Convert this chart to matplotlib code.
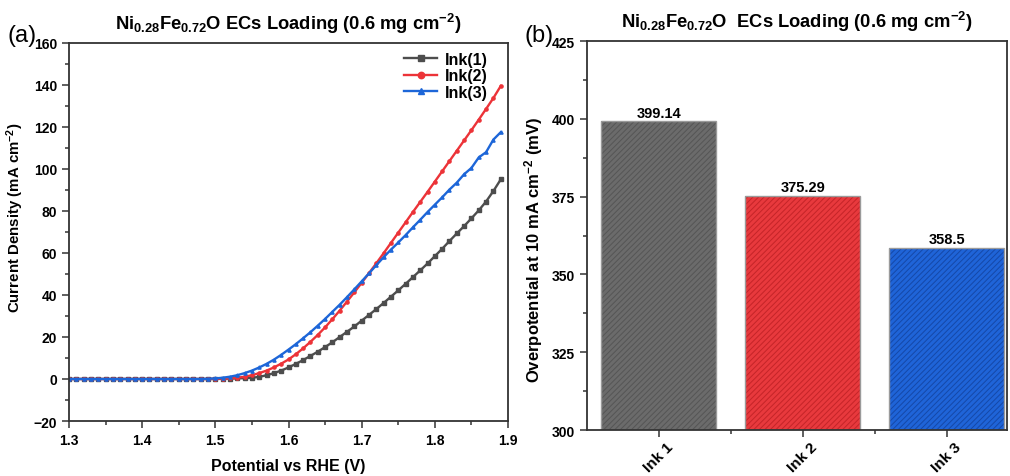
import numpy as np
import matplotlib
matplotlib.use("Agg")
import matplotlib.pyplot as plt
from matplotlib.ticker import MultipleLocator

plt.rcParams['font.family'] = ['Liberation Sans', 'DejaVu Sans']
plt.rcParams['mathtext.fontset'] = 'custom'
plt.rcParams['mathtext.rm'] = 'Liberation Sans:bold'
plt.rcParams['mathtext.bf'] = 'Liberation Sans:bold'
plt.rcParams['mathtext.default'] = 'bf'
plt.rcParams['hatch.linewidth'] = 0.7

# ---------------- data ----------------
potential = [1.30, 1.31, 1.32, 1.33, 1.34, 1.35, 1.36, 1.37, 1.38, 1.39,
             1.40, 1.41, 1.42, 1.43, 1.44, 1.45, 1.46, 1.47, 1.48, 1.49,
             1.50, 1.51, 1.52, 1.53, 1.54, 1.55, 1.56, 1.57, 1.58, 1.59,
             1.60, 1.61, 1.62, 1.63, 1.64, 1.65, 1.66, 1.67, 1.68, 1.69,
             1.70, 1.71, 1.72, 1.73, 1.74, 1.75, 1.76, 1.77, 1.78, 1.79,
             1.80, 1.81, 1.82, 1.83, 1.84, 1.85, 1.86, 1.87, 1.88, 1.89]

ink1 = [0, 0, 0, 0, 0, 0, 0, 0, 0, 0,
        0, 0, 0, 0, 0, 0, 0, 0, 0, 0,
        0, 0.1, 0.2, 0.3, 0.4, 0.6, 1.0, 1.8, 2.8, 4.0,
        5.5, 7.2, 9.0, 11.0, 13.0, 15.2, 17.5, 20.0, 22.5, 25.0,
        27.8, 30.5, 33.3, 36.2, 39.2, 42.2, 45.3, 48.5, 51.7, 55.0,
        58.5, 62.0, 65.7, 69.3, 72.8, 76.5, 80.3, 84.5, 89.5, 95.0]

ink2 = [0, 0, 0, 0, 0, 0, 0, 0, 0, 0,
        0, 0, 0, 0, 0, 0, 0, 0, 0, 0,
        0.1, 0.2, 0.3, 0.6, 1.1, 1.8, 2.8, 4.0, 5.5, 7.3,
        9.3, 11.8, 14.6, 17.7, 21.0, 24.6, 28.5, 32.6, 36.9, 41.3,
        45.8, 50.4, 55.1, 59.9, 64.8, 69.7, 74.6, 79.5, 84.3, 89.1,
        94.0, 98.9, 103.8, 108.7, 113.6, 118.5, 123.5, 128.6, 133.8, 139.5]

ink3 = [0, 0, 0, 0, 0, 0, 0, 0, 0, 0,
        0, 0, 0, 0, 0, 0, 0, 0, 0, 0.1,
        0.3, 0.6, 1.1, 1.8, 2.8, 4.0, 5.5, 7.2, 9.2, 11.5,
        14.0, 16.6, 19.4, 22.3, 25.4, 28.6, 32.0, 35.4, 39.0, 42.7,
        46.5, 50.3, 54.2, 58.0, 61.6, 65.0, 68.5, 72.2, 75.8, 79.5,
        83.0, 86.5, 90.2, 93.5, 97.5, 100.5, 105.5, 108.0, 114.0, 117.5]

lsv_labels = ['Ink(1)', 'Ink(2)', 'Ink(3)']
lsv_colors = ['#4d4d4d', '#ec3338', '#1d66d8']
lsv_markers = ['s', 'o', '^']

bar_categories = ['Ink 1', 'Ink 2', 'Ink 3']
overpotential = [399.14, 375.29, 358.5]
bar_text = ['399.14', '375.29', '358.5']
bar_colors = ['#6b6b6b', '#e8393d', '#1f64d8']
hatch_colors = ['#555555', '#c42428', '#1548a8']

title_txt = r'Ni$_{0.28}$Fe$_{0.72}$O ECs Loading (0.6 mg cm$^{-2}$)'
title_txt_b = r'Ni$_{0.28}$Fe$_{0.72}$O  ECs Loading (0.6 mg cm$^{-2}$)'

fig = plt.figure(figsize=(10.10, 4.77), dpi=100)
ax1 = fig.add_axes([0.0683, 0.1153, 0.4347, 0.7925])
ax2 = fig.add_axes([0.5812, 0.0964, 0.4158, 0.8155])

spine_c = '#333333'

def style(ax):
    for s in ax.spines.values():
        s.set_color(spine_c)
        s.set_linewidth(1.3)
    ax.tick_params(which='both', direction='out', color=spine_c, width=1.1)
    ax.tick_params(which='major', length=5, labelsize=10)
    ax.tick_params(which='minor', length=3)
    ax.tick_params(top=False, right=False, which='both')
    for lab in ax.get_xticklabels() + ax.get_yticklabels():
        lab.set_fontweight('bold')

# ---------------- panel (a) ----------------
for y, lab, c, m in zip([ink1, ink2, ink3], lsv_labels, lsv_colors, lsv_markers):
    ax1.plot(potential, y, color=c, lw=1.7, marker=m, ms=2.3, label=lab)
ax1.set_xlim(1.3, 1.9)
ax1.set_ylim(-20, 160)
ax1.xaxis.set_major_locator(MultipleLocator(0.1))
ax1.xaxis.set_minor_locator(MultipleLocator(0.05))
ax1.yaxis.set_major_locator(MultipleLocator(20))
ax1.yaxis.set_minor_locator(MultipleLocator(10))
style(ax1)
ax1.set_xlabel('Potential vs RHE (V)', fontsize=11.5, fontweight='bold', labelpad=8)
ax1.set_ylabel(r'Current Density (mA cm$^{-2}$)', fontsize=10.8, fontweight='bold')
ax1.yaxis.set_label_coords(-0.098, 0.54)
ax1.set_title(title_txt, fontsize=13.2, fontweight='bold', pad=10)
leg = ax1.legend(loc='upper right', bbox_to_anchor=(0.962, 0.985), frameon=False,
                 fontsize=11.5, handlelength=2.1, borderaxespad=0, borderpad=0.2,
                 labelspacing=0.1, handletextpad=0.5, markerscale=2.0)
for t in leg.get_texts():
    t.set_fontweight('bold')

# ---------------- panel (b) ----------------
xpos = np.arange(len(bar_categories))
for i, (v, fc, hc) in enumerate(zip(overpotential, bar_colors, hatch_colors)):
    ax2.bar(xpos[i], v - 300, bottom=300, width=0.8, color=fc, edgecolor=hc,
            hatch='//////', linewidth=0)
    ax2.bar(xpos[i], v - 300, bottom=300, width=0.8, fill=False,
            edgecolor='#9a9a9a', linewidth=1.0)
    ax2.text(xpos[i], v + 0.6, bar_text[i], ha='center', va='bottom',
             fontsize=10.5, fontweight='bold')
ax2.set_xlim(-0.5, 2.42)
ax2.set_ylim(300, 425)
ax2.set_xticks(xpos)
ax2.set_xticklabels(bar_categories)
ax2.set_xticks([0.5, 1.5], minor=True)
ax2.yaxis.set_major_locator(MultipleLocator(25))
ax2.yaxis.set_minor_locator(MultipleLocator(12.5))
style(ax2)
ax2.tick_params(axis='x', which='major', labelsize=11, pad=2)
for lab in ax2.get_xticklabels():
    lab.set_rotation(45)
    lab.set_fontweight('bold')
ax2.set_ylabel(r'Overpotential at 10 mA cm$^{-2}$ (mV)', fontsize=12, fontweight='bold')
ax2.yaxis.set_label_coords(-0.1, 0.465)
ax2.set_title(title_txt_b, fontsize=13.2, fontweight='bold', pad=10)

fig.text(0.007, 0.912, '(a)', fontsize=17)
fig.text(0.519, 0.912, '(b)', fontsize=17)

fig.savefig('out.png', dpi=100)
